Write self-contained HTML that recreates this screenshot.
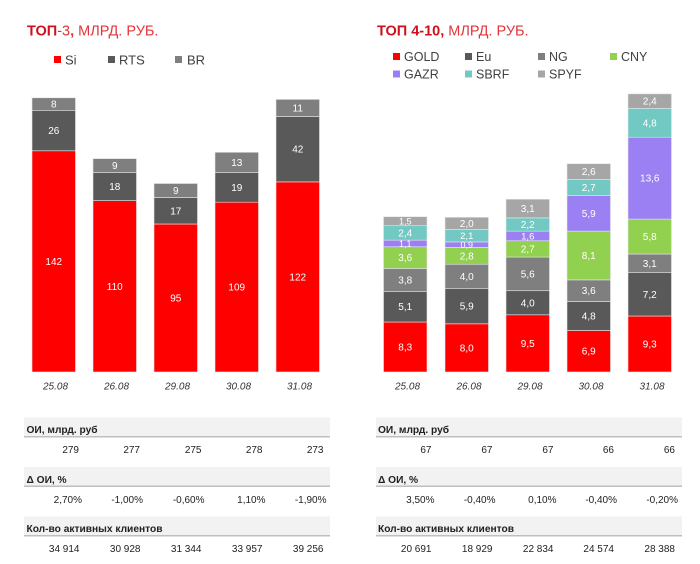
<!DOCTYPE html>
<html><head><meta charset="utf-8"><style>
html,body{margin:0;padding:0;background:#fff;}
svg{display:block;}
text{font-family:"Liberation Sans","DejaVu Sans",sans-serif;}
.lbl{fill:#fff;font-size:10px;text-anchor:middle;}
.date{fill:#333;font-size:10px;font-style:italic;text-anchor:middle;}
.leg{fill:#404040;font-size:13px;}
.th{fill:#222;font-size:10.2px;font-weight:bold;}
.td{fill:#222;font-size:10px;text-anchor:end;}
</style></head><body>
<svg width="700" height="564" viewBox="0 0 700 564" xmlns="http://www.w3.org/2000/svg">
<rect width="700" height="564" fill="#fff"/>
<!-- Titles -->
<text x="27" y="35.5" font-size="14.5" fill="#d0101e"><tspan font-weight="bold">ТОП</tspan><tspan fill="#e2353a">-3</tspan><tspan font-weight="bold" fill="#e2353a">,</tspan><tspan fill="#e2353a"> МЛРД. РУБ.</tspan></text>
<text x="377" y="35.5" font-size="14.5" fill="#d0101e"><tspan font-weight="bold">ТОП 4-10,</tspan><tspan fill="#e2353a"> МЛРД. РУБ.</tspan></text>

<!-- Left legend -->
<rect x="54" y="56" width="7" height="7" fill="#ff0000"/><text class="leg" x="65" y="64.5">Si</text>
<rect x="108" y="56" width="7" height="7" fill="#595959"/><text class="leg" x="119" y="64.5">RTS</text>
<rect x="175" y="56" width="7" height="7" fill="#7f7f7f"/><text class="leg" x="187" y="64.5">BR</text>

<!-- Right legend -->
<g font-size="12.5">
<rect x="393" y="53" width="7" height="7" fill="#ff0000"/><text class="leg" style="font-size:12.5px" x="404" y="61">GOLD</text>
<rect x="465" y="53" width="7" height="7" fill="#595959"/><text class="leg" style="font-size:12.5px" x="476" y="61">Eu</text>
<rect x="538" y="53" width="7" height="7" fill="#7f7f7f"/><text class="leg" style="font-size:12.5px" x="549" y="61">NG</text>
<rect x="610" y="53" width="7" height="7" fill="#92d050"/><text class="leg" style="font-size:12.5px" x="621" y="61">CNY</text>
<rect x="393" y="70.5" width="7" height="7" fill="#9a80f2"/><text class="leg" style="font-size:12.5px" x="404" y="78.5">GAZR</text>
<rect x="465" y="70.5" width="7" height="7" fill="#72c9c3"/><text class="leg" style="font-size:12.5px" x="476" y="78.5">SBRF</text>
<rect x="538" y="70.5" width="7" height="7" fill="#a6a6a6"/><text class="leg" style="font-size:12.5px" x="549" y="78.5">SPYF</text>
</g>

<!-- Left bars -->
<g stroke="#e6e6e6" stroke-width="0.6">
<rect x="32" y="150.8" width="43.5" height="221.2" fill="#ff0000"/>
<rect x="32" y="110.3" width="43.5" height="40.5" fill="#595959"/>
<rect x="32" y="97.8" width="43.5" height="12.5" fill="#7f7f7f"/>

<rect x="93" y="200.6" width="43.5" height="171.4" fill="#ff0000"/>
<rect x="93" y="172.6" width="43.5" height="28" fill="#595959"/>
<rect x="93" y="158.6" width="43.5" height="14" fill="#7f7f7f"/>

<rect x="154" y="224" width="43.5" height="148" fill="#ff0000"/>
<rect x="154" y="197.5" width="43.5" height="26.5" fill="#595959"/>
<rect x="154" y="183.5" width="43.5" height="14" fill="#7f7f7f"/>

<rect x="215" y="202.2" width="43.5" height="169.8" fill="#ff0000"/>
<rect x="215" y="172.6" width="43.5" height="29.6" fill="#595959"/>
<rect x="215" y="152.3" width="43.5" height="20.3" fill="#7f7f7f"/>

<rect x="276" y="181.9" width="43.5" height="190.1" fill="#ff0000"/>
<rect x="276" y="116.5" width="43.5" height="65.4" fill="#595959"/>
<rect x="276" y="99.4" width="43.5" height="17.1" fill="#7f7f7f"/>
</g>
<g class="lbl">
<text class="lbl" x="53.75" y="265">142</text><text class="lbl" x="53.75" y="134.1">26</text><text class="lbl" x="53.75" y="107.6">8</text>
<text class="lbl" x="114.75" y="289.8">110</text><text class="lbl" x="114.75" y="190.1">18</text><text class="lbl" x="114.75" y="169.1">9</text>
<text class="lbl" x="175.75" y="301.5">95</text><text class="lbl" x="175.75" y="214.3">17</text><text class="lbl" x="175.75" y="194">9</text>
<text class="lbl" x="236.75" y="290.6">109</text><text class="lbl" x="236.75" y="190.9">19</text><text class="lbl" x="236.75" y="166">13</text>
<text class="lbl" x="297.75" y="280.5">122</text><text class="lbl" x="297.75" y="152.7">42</text><text class="lbl" x="297.75" y="111.5">11</text>
</g>
<text class="date" x="55.5" y="389.5">25.08</text>
<text class="date" x="116.5" y="389.5">26.08</text>
<text class="date" x="177.5" y="389.5">29.08</text>
<text class="date" x="238.5" y="389.5">30.08</text>
<text class="date" x="299.5" y="389.5">31.08</text>

<!-- Right bars -->
<g stroke="#e6e6e6" stroke-width="0.6">
<rect x="383.5" y="322.03" width="43.5" height="49.97" fill="#ff0000"/>
<rect x="383.5" y="291.33" width="43.5" height="30.7" fill="#595959"/>
<rect x="383.5" y="268.45" width="43.5" height="22.88" fill="#7f7f7f"/>
<rect x="383.5" y="246.78" width="43.5" height="21.67" fill="#92d050"/>
<rect x="383.5" y="240.16" width="43.5" height="6.62" fill="#9a80f2"/>
<rect x="383.5" y="225.71" width="43.5" height="14.45" fill="#72c9c3"/>
<rect x="383.5" y="216.68" width="43.5" height="9.03" fill="#a6a6a6"/>

<rect x="445" y="323.84" width="43.5" height="48.16" fill="#ff0000"/>
<rect x="445" y="288.32" width="43.5" height="35.52" fill="#595959"/>
<rect x="445" y="264.24" width="43.5" height="24.08" fill="#7f7f7f"/>
<rect x="445" y="247.38" width="43.5" height="16.86" fill="#92d050"/>
<rect x="445" y="241.96" width="43.5" height="5.42" fill="#9a80f2"/>
<rect x="445" y="229.32" width="43.5" height="12.64" fill="#72c9c3"/>
<rect x="445" y="217.28" width="43.5" height="12.04" fill="#a6a6a6"/>

<rect x="506" y="314.81" width="43.5" height="57.19" fill="#ff0000"/>
<rect x="506" y="290.73" width="43.5" height="24.08" fill="#595959"/>
<rect x="506" y="257.02" width="43.5" height="33.71" fill="#7f7f7f"/>
<rect x="506" y="240.77" width="43.5" height="16.25" fill="#92d050"/>
<rect x="506" y="231.14" width="43.5" height="9.63" fill="#9a80f2"/>
<rect x="506" y="217.9" width="43.5" height="13.24" fill="#72c9c3"/>
<rect x="506" y="199.24" width="43.5" height="18.66" fill="#a6a6a6"/>

<rect x="567" y="330.46" width="43.5" height="41.54" fill="#ff0000"/>
<rect x="567" y="301.56" width="43.5" height="28.9" fill="#595959"/>
<rect x="567" y="279.89" width="43.5" height="21.67" fill="#7f7f7f"/>
<rect x="567" y="231.13" width="43.5" height="48.76" fill="#92d050"/>
<rect x="567" y="195.61" width="43.5" height="35.52" fill="#9a80f2"/>
<rect x="567" y="179.36" width="43.5" height="16.25" fill="#72c9c3"/>
<rect x="567" y="163.71" width="43.5" height="15.65" fill="#a6a6a6"/>

<rect x="628" y="316.01" width="43.5" height="55.99" fill="#ff0000"/>
<rect x="628" y="272.67" width="43.5" height="43.34" fill="#595959"/>
<rect x="628" y="254.01" width="43.5" height="18.66" fill="#7f7f7f"/>
<rect x="628" y="219.09" width="43.5" height="34.92" fill="#92d050"/>
<rect x="628" y="137.22" width="43.5" height="81.87" fill="#9a80f2"/>
<rect x="628" y="108.32" width="43.5" height="28.9" fill="#72c9c3"/>
<rect x="628" y="93.87" width="43.5" height="14.45" fill="#a6a6a6"/>
</g>
<g>
<text class="lbl" x="405.25" y="350.5">8,3</text><text class="lbl" x="405.25" y="310.2">5,1</text><text class="lbl" x="405.25" y="283.4">3,8</text><text class="lbl" x="405.25" y="261.1">3,6</text><text class="lbl" style="font-size:9px" x="405.25" y="246.8">1,1</text><text class="lbl" x="405.25" y="236.4">2,4</text><text class="lbl" style="font-size:9px" x="405.25" y="224.4">1,5</text>

<text class="lbl" x="466.75" y="351.4">8,0</text><text class="lbl" x="466.75" y="309.6">5,9</text><text class="lbl" x="466.75" y="279.8">4,0</text><text class="lbl" x="466.75" y="259.3">2,8</text><text class="lbl" style="font-size:9px" x="466.75" y="247.9">0,9</text><text class="lbl" style="font-size:9.5px" x="466.75" y="238.9">2,1</text><text class="lbl" x="466.75" y="226.8">2,0</text>

<text class="lbl" x="527.75" y="346.9">9,5</text><text class="lbl" x="527.75" y="306.3">4,0</text><text class="lbl" x="527.75" y="277.4">5,6</text><text class="lbl" x="527.75" y="252.4">2,7</text><text class="lbl" style="font-size:9.5px" x="527.75" y="239.3">1,6</text><text class="lbl" x="527.75" y="228">2,2</text><text class="lbl" x="527.75" y="212.1">3,1</text>

<text class="lbl" x="588.75" y="354.7">6,9</text><text class="lbl" x="588.75" y="319.5">4,8</text><text class="lbl" x="588.75" y="294.2">3,6</text><text class="lbl" x="588.75" y="259">8,1</text><text class="lbl" x="588.75" y="216.9">5,9</text><text class="lbl" x="588.75" y="191">2,7</text><text class="lbl" x="588.75" y="175">2,6</text>

<text class="lbl" x="649.75" y="347.5">9,3</text><text class="lbl" x="649.75" y="297.8">7,2</text><text class="lbl" x="649.75" y="266.8">3,1</text><text class="lbl" x="649.75" y="240.1">5,8</text><text class="lbl" x="649.75" y="181.7">13,6</text><text class="lbl" x="649.75" y="126.3">4,8</text><text class="lbl" x="649.75" y="104.6">2,4</text>
</g>
<text class="date" x="407.5" y="389.5">25.08</text>
<text class="date" x="469" y="389.5">26.08</text>
<text class="date" x="530" y="389.5">29.08</text>
<text class="date" x="591" y="389.5">30.08</text>
<text class="date" x="652" y="389.5">31.08</text>

<!-- Left table -->
<rect x="24" y="417.5" width="306" height="19" fill="#f2f2f2"/>
<rect x="24" y="436" width="306" height="1.5" fill="#bfbfbf"/>
<text class="th" x="26.5" y="433">ОИ, млрд. руб</text>
<text class="td" x="79" y="453">279</text><text class="td" x="140" y="453">277</text><text class="td" x="201.5" y="453">275</text><text class="td" x="262.5" y="453">278</text><text class="td" x="323.5" y="453">273</text>

<rect x="24" y="467" width="306" height="19" fill="#f2f2f2"/>
<rect x="24" y="485.5" width="306" height="1.5" fill="#bfbfbf"/>
<text class="th" x="26.5" y="483">Δ ОИ, %</text>
<text class="td" x="82" y="503">2,70%</text><text class="td" x="143" y="503">-1,00%</text><text class="td" x="204.5" y="503">-0,60%</text><text class="td" x="265.5" y="503">1,10%</text><text class="td" x="326.5" y="503">-1,90%</text>

<rect x="24" y="516.5" width="306" height="19" fill="#f2f2f2"/>
<rect x="24" y="535" width="306" height="1.5" fill="#bfbfbf"/>
<text class="th" x="26.5" y="532">Кол-во активных клиентов</text>
<text class="td" x="79.5" y="552">34 914</text><text class="td" x="140.5" y="552">30 928</text><text class="td" x="201.5" y="552">31 344</text><text class="td" x="262.5" y="552">33 957</text><text class="td" x="323.5" y="552">39 256</text>

<!-- Right table -->
<rect x="376" y="417.5" width="306" height="19" fill="#f2f2f2"/>
<rect x="376" y="436" width="306" height="1.5" fill="#bfbfbf"/>
<text class="th" x="378" y="433">ОИ, млрд. руб</text>
<text class="td" x="431.5" y="453">67</text><text class="td" x="492.5" y="453">67</text><text class="td" x="553.5" y="453">67</text><text class="td" x="614" y="453">66</text><text class="td" x="675" y="453">66</text>

<rect x="376" y="467" width="306" height="19" fill="#f2f2f2"/>
<rect x="376" y="485.5" width="306" height="1.5" fill="#bfbfbf"/>
<text class="th" x="378" y="483">Δ ОИ, %</text>
<text class="td" x="434.5" y="503">3,50%</text><text class="td" x="495.5" y="503">-0,40%</text><text class="td" x="556.5" y="503">0,10%</text><text class="td" x="617" y="503">-0,40%</text><text class="td" x="678" y="503">-0,20%</text>

<rect x="376" y="516.5" width="306" height="19" fill="#f2f2f2"/>
<rect x="376" y="535" width="306" height="1.5" fill="#bfbfbf"/>
<text class="th" x="378" y="532">Кол-во активных клиентов</text>
<text class="td" x="431.5" y="552">20 691</text><text class="td" x="492.5" y="552">18 929</text><text class="td" x="553.5" y="552">22 834</text><text class="td" x="614" y="552">24 574</text><text class="td" x="675" y="552">28 388</text>
</svg>
</body></html>
